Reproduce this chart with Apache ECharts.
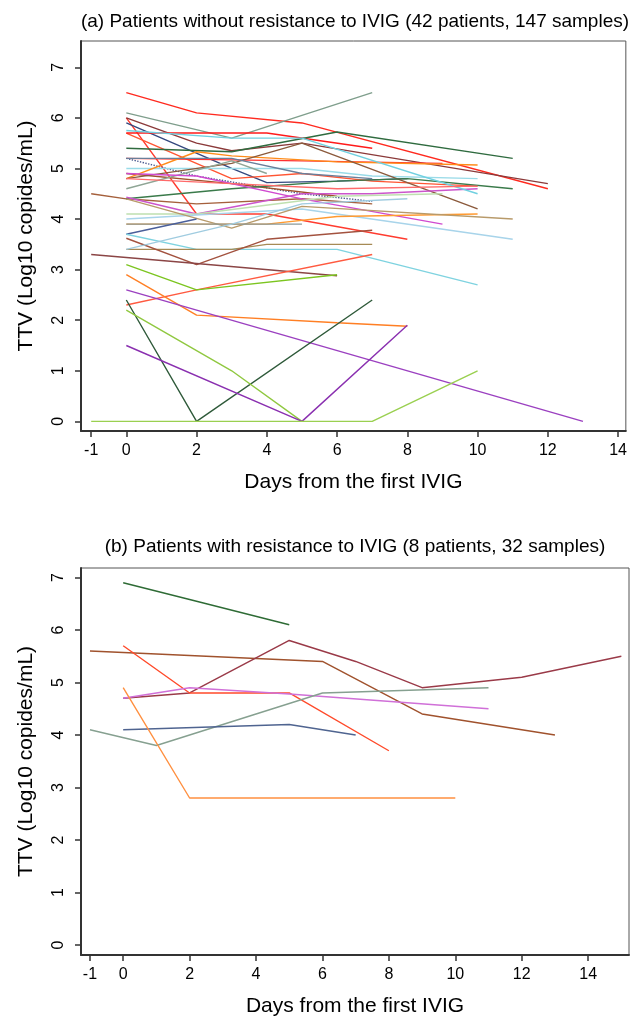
<!DOCTYPE html>
<html>
<head>
<meta charset="utf-8">
<script src="https://cdn.jsdelivr.net/npm/echarts@6/dist/echarts.min.js"></script>
<style>
html, body { margin: 0; padding: 0; background: #fff; }
#main { width: 630px; height: 1018px; }
</style>
</head>
<body>
<div id="main"></div>
<script>
// tick values
var dayTicks = [-1, 0, 2, 4, 6, 8, 10, 12, 14];
var ttvTicks = [0, 1, 2, 3, 4, 5, 6, 7];

// (a) patients without resistance: [day, log10 TTV]
var a01 = [[0, 6.5], [2, 6.1], [5, 5.9], [12, 4.6]];
var a02 = [[0, 6.1], [3, 5.6], [7, 6.5]];
var a03 = [[0, 6.0], [2, 4.1], [4, 4.1], [8, 3.6]];
var a04 = [[0, 6.0], [2, 5.5], [3, 5.35], [5, 5.5], [12, 4.7]];
var a05 = [[0, 5.9], [3, 5.0], [4, 4.72], [6, 4.75], [8, 4.8]];
var a06 = [[0, 5.7], [3, 4.8], [5, 4.9], [7, 4.75], [10, 4.65]];
var a07 = [[0, 5.7], [4, 5.7], [7, 5.4]];
var a08 = [[0, 5.4], [3, 5.33], [6, 5.72], [11, 5.2]];
var a09 = [[0, 5.2], [5, 5.15], [9, 5.1]];
var a10 = [[0, 5.2], [2, 4.85], [5, 4.5], [7, 4.35]];
var a11 = [[0, 5.0], [5, 5.0], [7, 4.85], [10, 4.8]];
var a12 = [[0, 4.9], [3, 4.7], [6, 4.45]];
var a13 = [[0, 4.8], [2, 5.33], [3, 5.25], [6, 5.13], [10, 5.07]];
var a14 = [[0, 4.8], [3, 5.1], [5, 5.5], [10, 4.2]];
var a15 = [[0, 4.6], [3, 5.15], [4, 4.9]];
var a16 = [[-1, 4.5], [0, 4.4], [2, 4.3], [5, 4.4], [7, 4.3]];
var a17 = [[0, 4.4], [3, 4.6], [6, 4.75], [8, 4.8], [11, 4.6]];
var a18 = [[0, 4.43], [2, 4.1], [5, 4.5], [7, 4.5], [10, 4.6]];
var a19 = [[0, 4.9], [2, 4.85], [5, 4.4], [9, 3.9]];
var a20 = [[0, 4.1], [2, 4.1], [6, 4.45], [9, 4.5]];
var a21 = [[0, 4.0], [5, 4.2], [11, 3.6]];
var a22 = [[0, 3.9], [4, 3.9], [6, 4.05], [10, 4.1]];
var a23 = [[0, 4.4], [3, 3.82], [5, 4.25], [11, 4.0]];
var a24 = [[0, 3.9], [5, 3.9]];
var a25 = [[0, 3.7], [2, 4.0]];
var a26 = [[0, 3.7], [2, 3.4], [6, 3.4], [10, 2.7]];
var a27 = [[0, 3.4], [3, 3.4], [4, 3.5], [7, 3.5]];
var a28 = [[0, 3.62], [2, 3.1], [4, 3.6], [7, 3.78]];
var a29 = [[-1, 3.3], [2, 3.12], [6, 2.88]];
var a30 = [[0, 2.3], [2, 2.6], [7, 3.3]];
var a31 = [[0, 3.1], [2, 2.6], [6, 2.9]];
var a32 = [[0, 2.9], [2, 2.1], [6, 1.95], [8, 1.88]];
var a33 = [[0, 2.6], [13, 0]];
var a34 = [[0, 2.4], [2, 0], [7, 2.4]];
var a35 = [[0, 2.2], [3, 1.0], [5, 0]];
var a36 = [[0, 1.5], [5, 0], [8, 1.9]];
var a37 = [[-1, 0], [2, 0], [5, 0], [7, 0], [10, 1.0]];
var a38 = [[0, 5.75], [3, 5.6], [5, 5.6], [10, 4.5]];
var a39 = [[0, 3.4], [3, 3.9], [5, 4.3], [8, 4.4]];
var a40 = [[0, 5.2], [3, 5.2], [5, 4.9], [7, 4.8]];
var a41 = [[0, 4.8], [3, 4.7], [6, 4.6], [10, 4.65]];

// (b) patients with resistance
var b01 = [[0, 6.9], [2, 6.58], [5, 6.1]];
var b02 = [[-1, 5.6], [6, 5.4], [9, 4.4], [13, 4.0]];
var b03 = [[0, 4.7], [2, 4.8], [5, 5.8], [7, 5.4], [9, 4.9], [12, 5.1], [15, 5.5]];
var b04 = [[0, 5.7], [2, 4.8], [5, 4.8], [8, 3.7]];
var b05 = [[0, 4.7], [2, 4.9], [5, 4.78], [11, 4.5]];
var b06 = [[-1, 4.1], [1, 3.8], [6, 4.8], [11, 4.9]];
var b07 = [[0, 4.1], [5, 4.2], [7, 4.0]];
var b08 = [[0, 4.9], [2, 2.8], [10, 2.8]];

var patientsA = [a01, a02, a03, a04, a05, a06, a07, a08, a09, a10, a11, a12, a13, a14,
    a15, a16, a17, a18, a19, a20, a21, a22, a23, a24, a25, a26, a27, a28, a29, a30, a31,
    a32, a33, a34, a35, a36, a37, a38, a39, a40, a41];
var patientsB = [b01, b02, b03, b04, b05, b06, b07, b08];

var colorsA = ['#ff2a1f', '#7f9e8c', '#ff3b2f', '#8b3a3a', '#34487f', '#ff5533', '#ff1a1a',
    '#2f6b3f', '#ff3030', '#4a5a8f', '#9adbe8', '#a0522d', '#ff8c1a', '#8b5a3c', '#8fa595',
    '#a5603c', '#3a7a4a', '#cc55cc', '#d04ad0', '#bfe0b0', '#a8d4ea', '#ff9a30', '#b89a6a',
    '#8a9a9a', '#4a5f9a', '#7fd3e0', '#a68a55', '#a3523f', '#8b4545', '#ff5a40', '#7cc520',
    '#ff7f24', '#9b40c0', '#2f5a3a', '#90c840', '#8a30b0', '#9ad050', '#70d0e0', '#a0cce0',
    '#6a7f9a', '#ff6a6a'];
var dottedA = [9];
var colorsB = ['#2e6b35', '#a0522d', '#9a3a48', '#ff4a2a', '#d070d8', '#86a090', '#4f6490', '#ff9040'];

var font = "'Liberation Sans', Arial, sans-serif";

var myChart = echarts.init(document.getElementById('main'), null, {renderer: 'canvas'});

function xAxisOf(idx, lo, hi) {
    return {
        type: 'value', gridIndex: idx, min: lo, max: hi,
        axisLine: {onZero: false, lineStyle: {color: '#333', width: 2}},
        axisTick: {show: true, customValues: dayTicks, length: 6, lineStyle: {color: '#333', width: 1.5}},
        axisLabel: {customValues: dayTicks, margin: 12, color: '#000', fontSize: 16, fontFamily: font},
        splitLine: {show: false},
        name: 'Days from the first IVIG', nameLocation: 'middle', nameGap: 41,
        nameTextStyle: {color: '#000', fontSize: 21, fontFamily: font}
    };
}
function yAxisOf(idx, lo, hi) {
    return {
        type: 'value', gridIndex: idx, min: lo, max: hi,
        axisLine: {onZero: false, lineStyle: {color: '#333', width: 2}},
        axisTick: {show: true, customValues: ttvTicks, length: 6, lineStyle: {color: '#333', width: 1.5}},
        axisLabel: {customValues: ttvTicks, rotate: 90, margin: 14, color: '#000', fontSize: 16, fontFamily: font},
        splitLine: {show: false},
        name: 'TTV (Log10 copides/mL)', nameLocation: 'middle', nameRotate: 90, nameGap: 44,
        nameTextStyle: {color: '#000', fontSize: 21, fontFamily: font}
    };
}

var series = [];
patientsA.forEach(function (p, i) {
    series.push({
        type: 'line', xAxisIndex: 0, yAxisIndex: 0, data: p, showSymbol: false, symbol: 'none',
        lineStyle: {color: colorsA[i], width: 1.4, type: dottedA.indexOf(i) >= 0 ? 'dotted' : 'solid'},
        silent: true
    });
});
patientsB.forEach(function (p, i) {
    series.push({
        type: 'line', xAxisIndex: 1, yAxisIndex: 1, data: p, showSymbol: false, symbol: 'none',
        lineStyle: {color: colorsB[i], width: 1.4}, silent: true
    });
});

var option = {
    backgroundColor: '#fff',
    animation: false,
    grid: [
        {left: 81, top: 41, width: 548, height: 390, show: true, borderColor: '#555', borderWidth: 1},
        {left: 81, top: 568, width: 548, height: 390, show: true, borderColor: '#555', borderWidth: 1}
    ],
    xAxis: [xAxisOf(0, -1.29, 14.22), xAxisOf(1, -1.27, 15.23)],
    yAxis: [yAxisOf(0, -0.19, 7.52), yAxisOf(1, -0.19, 7.18)],
    graphic: [
        {type: 'text', x: 355, y: 22, style: {text: '(a) Patients without resistance to IVIG (42 patients, 147 samples)',
            textAlign: 'center', textVerticalAlign: 'middle', fill: '#000', font: '19px ' + font}},
        {type: 'text', x: 355, y: 547, style: {text: '(b) Patients with resistance to IVIG (8 patients, 32 samples)',
            textAlign: 'center', textVerticalAlign: 'middle', fill: '#000', font: '19px ' + font}}
    ],
    series: series
};
myChart.setOption(option);
</script>
</body>
</html>
